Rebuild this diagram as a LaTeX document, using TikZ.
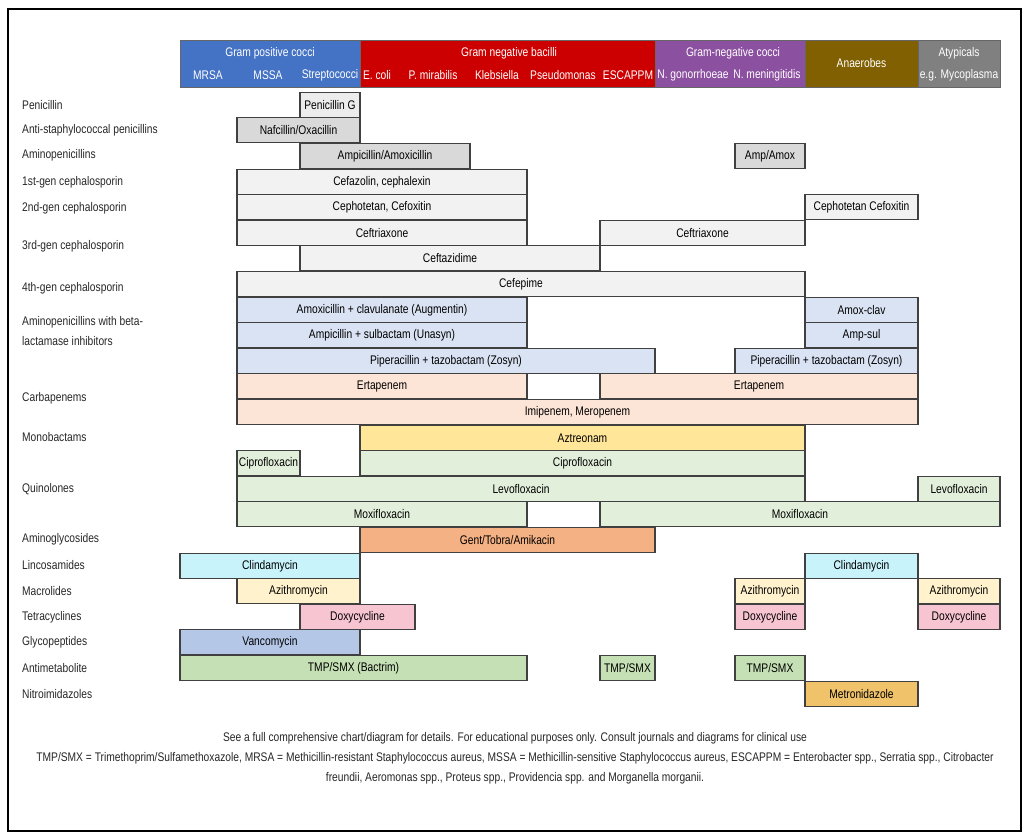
\documentclass[tikz,border=0pt]{standalone}
\usepackage{fontspec}
\setmainfont{Liberation Sans}[FakeStretch=0.82]
\usepackage{tikz}
\usetikzlibrary{positioning}
\definecolor{gpcblue}{RGB}{68,114,196}
\definecolor{gnbred}{RGB}{204,0,0}
\definecolor{gncpurple}{RGB}{140,80,160}
\definecolor{anaerobrown}{RGB}{128,96,0}
\definecolor{atypgray}{RGB}{128,128,128}
\definecolor{penfill}{RGB}{236,236,236}
\definecolor{pendark}{RGB}{217,217,217}
\definecolor{cephfill}{RGB}{242,242,242}
\definecolor{blfill}{RGB}{218,227,243}
\definecolor{carbafill}{RGB}{252,228,214}
\definecolor{aztfill}{RGB}{255,230,153}
\definecolor{quinfill}{RGB}{226,239,218}
\definecolor{aminofill}{RGB}{244,177,131}
\definecolor{clindafill}{RGB}{200,243,250}
\definecolor{azifill}{RGB}{255,242,204}
\definecolor{doxyfill}{RGB}{247,196,210}
\definecolor{vancofill}{RGB}{180,199,231}
\definecolor{tmpfill}{RGB}{197,224,180}
\definecolor{metrofill}{RGB}{240,194,106}
\tikzset {
drug/.style={shape=rectangle,draw=black!75,line width=1.2pt,minimum height=25.6pt,inner sep=0pt},
head/.style={shape=rectangle,draw=black!60,line width=0.8pt,minimum height=47pt,inner sep=0pt},
headtext/.style={text=white,inner sep=0pt},
cls/.style={anchor=west,inner sep=0pt,text=black!85},
footnote/.style={text=black!85,inner sep=0pt}
}

\begin{document}
\begin{tikzpicture}
[x=1pt,y=-1pt,font=\fontsize{12.5}{15}\selectfont,node distance=8pt]
\useasboundingbox (0,0) rectangle (1031,840);
\draw[line width=1.2pt] (8,9) rectangle (1021,831);

% header
\node[head,fill=gpcblue,minimum width=180pt] (gram pos cocci) at (270,63.5) {};
\node[head,fill=gnbred,minimum width=295pt] (gram neg bacilli) at (507.5,63.5) {};
\node[head,fill=gncpurple,minimum width=150pt] (gram neg cocci) at (730,63.5) {};
\node[head,fill=anaerobrown,minimum width=113pt,text=white] (anaerobes) at (861.5,63.5) {Anaerobes};
\node[head,fill=atypgray,minimum width=82pt] (atypicals) at (959,63.5) {};
\node[headtext] (gram pos title) at (270,53) {Gram positive cocci};
\node[headtext] (mrsa) at (208,75) {MRSA};
\node[headtext] (mssa) at (268,75) {MSSA};
\node[headtext] (streptococci) at (330,75) {Streptococci};
\node[headtext] (gram neg bacilli title) at (509,53) {Gram negative bacilli};
\node[headtext] (e coli) at (377,75) {E. coli};
\node[headtext] (p mirabilis) at (433,75) {P. mirabilis};
\node[headtext] (klebsiella) at (497,75) {Klebsiella};
\node[headtext] (pseudomonas) at (563,75) {Pseudomonas};
\node[headtext] (escappm) at (628,75) {ESCAPPM};
\node[headtext] (gram neg cocci title) at (733,53) {Gram-negative cocci};
\node[headtext] (gonorrhoeae) at (693,75) {N. gonorrhoeae};
\node[headtext] (meningitidis) at (767,75) {N. meningitidis};
\node[headtext] (atypicals title) at (959,53) {Atypicals};
\node[headtext] (mycoplasma) at (959,75) {e.g. Mycoplasma};

% classes
\node[cls] (penicillin) at (22,105) {Penicillin};
\node[cls] (antistaph) at (22,130) {Anti-staphylococcal penicillins};
\node[cls] (aminopenicillins) at (22,155) {Aminopenicillins};
\node[cls] (first gen) at (22,182) {1st-gen cephalosporin};
\node[cls] (second gen) at (22,208) {2nd-gen cephalosporin};
\node[cls] (third gen) at (22,246) {3rd-gen cephalosporin};
\node[cls] (fourth gen) at (22,288) {4th-gen cephalosporin};
\node[cls,align=left,font=\fontsize{12.5}{20}\selectfont] (bl inhibitors) at (22,331) {Aminopenicillins with beta-\\lactamase inhibitors};
\node[cls] (carbapenems) at (22,398) {Carbapenems};
\node[cls] (monobactams) at (22,437) {Monobactams};
\node[cls] (quinolones) at (22,489) {Quinolones};
\node[cls] (aminoglycosides) at (22,539) {Aminoglycosides};
\node[cls] (lincosamides) at (22,565) {Lincosamides};
\node[cls] (macrolides) at (22,591) {Macrolides};
\node[cls] (tetracyclines) at (22,617) {Tetracyclines};
\node[cls] (glycopeptides) at (22,642) {Glycopeptides};
\node[cls] (antimetabolite) at (22,668) {Antimetabolite};
\node[cls] (nitroimidazoles) at (22,694) {Nitroimidazoles};

% drugs
\node[drug,fill=penfill,minimum width=60pt] (penicillin g) at (330,105) {Penicillin G};
\node[drug,fill=pendark,minimum width=123pt] (nafcillin) at (298.5,130) {Nafcillin/Oxacillin};
\node[drug,fill=pendark,minimum width=170pt] (ampicillin) at (385,156) {Ampicillin/Amoxicillin};
\node[drug,fill=pendark,minimum width=70pt] (amp amox) at (770,156) {Amp/Amox};
\node[drug,fill=cephfill,minimum width=290pt] (cefazolin) at (382,182) {Cefazolin, cephalexin};
\node[drug,fill=cephfill,minimum width=290pt] (cefotetan) at (382,207) {Cephotetan, Cefoxitin};
\node[drug,fill=cephfill,minimum width=113pt] (cefotetan anaerobes) at (861.5,207) {Cephotetan Cefoxitin};
\node[drug,fill=cephfill,minimum width=290pt] (ceftriaxone) at (382,233) {Ceftriaxone};
\node[drug,fill=cephfill,minimum width=205pt] (ceftriaxone cocci) at (702.5,233) {Ceftriaxone};
\node[drug,fill=cephfill,minimum width=300pt] (ceftazidime) at (450,258) {Ceftazidime};
\node[drug,fill=cephfill,minimum width=568pt] (cefepime) at (521,284) {Cefepime};
\node[drug,fill=blfill,minimum width=290pt] (augmentin) at (382,310) {Amoxicillin + clavulanate (Augmentin)};
\node[drug,fill=blfill,minimum width=113pt] (amox clav) at (861.5,310) {Amox-clav};
\node[drug,fill=blfill,minimum width=290pt] (unasyn) at (382,335) {Ampicillin + sulbactam (Unasyn)};
\node[drug,fill=blfill,minimum width=113pt] (amp sul) at (861.5,335) {Amp-sul};
\node[drug,fill=blfill,minimum width=418pt] (zosyn) at (446,361) {Piperacillin + tazobactam (Zosyn)};
\node[drug,fill=blfill,minimum width=183pt] (zosyn anaerobes) at (826.5,361) {Piperacillin + tazobactam (Zosyn)};
\node[drug,fill=carbafill,minimum width=290pt] (ertapenem) at (382,386) {Ertapenem};
\node[drug,fill=carbafill,minimum width=318pt] (ertapenem anaerobes) at (759,386) {Ertapenem};
\node[drug,fill=carbafill,minimum width=681pt] (imipenem) at (577.5,412) {Imipenem, Meropenem};
\node[drug,fill=aztfill,minimum width=445pt] (aztreonam) at (582.5,438) {Aztreonam};
\node[drug,fill=quinfill,minimum width=63pt] (cipro staph) at (268.5,463) {Ciprofloxacin};
\node[drug,fill=quinfill,minimum width=445pt] (cipro) at (582.5,463) {Ciprofloxacin};
\node[drug,fill=quinfill,minimum width=568pt] (levo) at (521,489) {Levofloxacin};
\node[drug,fill=quinfill,minimum width=82pt] (levo atypicals) at (959,489) {Levofloxacin};
\node[drug,fill=quinfill,minimum width=290pt] (moxi) at (382,514) {Moxifloxacin};
\node[drug,fill=quinfill,minimum width=400pt] (moxi anaerobes) at (800,514) {Moxifloxacin};
\node[drug,fill=aminofill,minimum width=295pt] (gent) at (507.5,540) {Gent/Tobra/Amikacin};
\node[drug,fill=clindafill,minimum width=180pt] (clinda) at (270,566) {Clindamycin};
\node[drug,fill=clindafill,minimum width=113pt] (clinda anaerobes) at (861.5,566) {Clindamycin};
\node[drug,fill=azifill,minimum width=123pt] (azithro) at (298.5,591) {Azithromycin};
\node[drug,fill=azifill,minimum width=70pt] (azithro cocci) at (770,591) {Azithromycin};
\node[drug,fill=azifill,minimum width=82pt] (azithro atypicals) at (959,591) {Azithromycin};
\node[drug,fill=doxyfill,minimum width=115pt] (doxy) at (357.5,617) {Doxycycline};
\node[drug,fill=doxyfill,minimum width=70pt] (doxy cocci) at (770,617) {Doxycycline};
\node[drug,fill=doxyfill,minimum width=82pt] (doxy atypicals) at (959,617) {Doxycycline};
\node[drug,fill=vancofill,minimum width=180pt] (vanco) at (270,642) {Vancomycin};
\node[drug,fill=tmpfill,minimum width=347pt] (bactrim) at (353.5,668) {TMP/SMX (Bactrim)};
\node[drug,fill=tmpfill,minimum width=55pt] (tmp smx escappm) at (627.5,668) {TMP/SMX};
\node[drug,fill=tmpfill,minimum width=70pt] (tmp smx cocci) at (770,668) {TMP/SMX};
\node[drug,fill=metrofill,minimum width=113pt] (metro) at (861.5,694) {Metronidazole};

% footnotes
\node[footnote] (footnote a) at (515,738) {See a full comprehensive chart/diagram for details. For educational purposes only. Consult journals and diagrams for clinical use};
\node[footnote] (footnote b) [below=of footnote a] {TMP/SMX = Trimethoprim/Sulfamethoxazole, MRSA = Methicillin-resistant Staphylococcus aureus, MSSA = Methicillin-sensitive Staphylococcus aureus, ESCAPPM = Enterobacter spp., Serratia spp., Citrobacter};
\node[footnote] (footnote c) [below=of footnote b] {freundii, Aeromonas spp., Proteus spp., Providencia spp. and Morganella morganii.};
\end{tikzpicture}
\end{document}
